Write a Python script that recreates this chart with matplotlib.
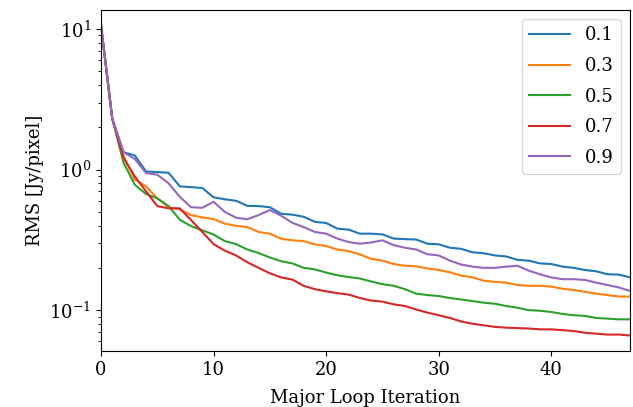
import numpy as np
import matplotlib
matplotlib.use("Agg")
from matplotlib import pyplot as plt

plt.rcParams["font.family"] = "DejaVu Serif"
plt.rcParams["font.size"] = 13
plt.rcParams["mathtext.fontset"] = "dejavuserif"

labels = ["0.1", "0.3", "0.5", "0.7", "0.9"]

rms_01 = [10.6, 2.3, 1.33, 1.26, 0.97, 0.96, 0.95, 0.76, 0.75, 0.74,
          0.635, 0.615, 0.60, 0.552, 0.55, 0.54, 0.485, 0.478, 0.462, 0.425,
          0.417, 0.38, 0.374, 0.35, 0.35, 0.346, 0.323, 0.32, 0.318, 0.297,
          0.294, 0.278, 0.273, 0.258, 0.254, 0.245, 0.241, 0.228, 0.225, 0.215,
          0.213, 0.204, 0.20, 0.193, 0.189, 0.18, 0.179, 0.171]
rms_03 = [10.6, 2.3, 1.25, 0.85, 0.76, 0.625, 0.54, 0.52, 0.475, 0.457,
          0.445, 0.412, 0.398, 0.39, 0.36, 0.35, 0.322, 0.314, 0.31, 0.294,
          0.286, 0.27, 0.263, 0.249, 0.232, 0.225, 0.213, 0.207, 0.205, 0.198,
          0.193, 0.186, 0.176, 0.171, 0.162, 0.159, 0.157, 0.151, 0.149, 0.149,
          0.147, 0.142, 0.139, 0.135, 0.131, 0.128, 0.125, 0.125]
rms_05 = [10.6, 2.3, 1.12, 0.78, 0.67, 0.625, 0.55, 0.44, 0.396, 0.37,
          0.345, 0.31, 0.295, 0.27, 0.255, 0.237, 0.223, 0.215, 0.20, 0.195,
          0.185, 0.177, 0.172, 0.168, 0.16, 0.153, 0.149, 0.141, 0.131, 0.128,
          0.126, 0.122, 0.119, 0.116, 0.113, 0.111, 0.107, 0.104, 0.10, 0.099,
          0.097, 0.094, 0.092, 0.091, 0.088, 0.087, 0.086, 0.086]
rms_07 = [10.6, 2.3, 1.21, 0.895, 0.70, 0.55, 0.53, 0.53, 0.437, 0.36,
          0.295, 0.265, 0.245, 0.219, 0.20, 0.183, 0.171, 0.165, 0.149, 0.141,
          0.136, 0.132, 0.129, 0.122, 0.117, 0.115, 0.11, 0.107, 0.101, 0.096,
          0.092, 0.088, 0.083, 0.08, 0.078, 0.076, 0.075, 0.0745, 0.074, 0.073,
          0.073, 0.072, 0.071, 0.069, 0.068, 0.067, 0.067, 0.066]
rms_09 = [10.6, 2.3, 1.33, 1.19, 0.945, 0.92, 0.80, 0.64, 0.54, 0.535,
          0.59, 0.50, 0.455, 0.443, 0.475, 0.515, 0.47, 0.418, 0.39, 0.36,
          0.35, 0.323, 0.305, 0.297, 0.303, 0.314, 0.29, 0.278, 0.27, 0.25,
          0.245, 0.225, 0.211, 0.204, 0.20, 0.20, 0.204, 0.207, 0.191, 0.18,
          0.171, 0.166, 0.166, 0.164, 0.157, 0.151, 0.145, 0.137]

series = [rms_01, rms_03, rms_05, rms_07, rms_09]
iterations = np.arange(len(rms_01))

fig = plt.figure(figsize=(6.33, 4.07), dpi=100)
ax = fig.add_axes([0.1596, 0.1376, 0.8357, 0.8378])

for vals, lab in zip(series, labels):
    ax.plot(iterations, vals, label=lab)

ax.set_yscale("log")
ax.set_xlim(0, iterations[-1])
# the reference crops the x label at the bottom edge; keep it just inside
ax.set_xlabel("Major Loop Iteration", labelpad=7.5)
ax.set_ylabel("RMS [Jy/pixel]")
ax.legend(loc="upper right", labelspacing=0.7, handlelength=2.3)

fig.savefig("out.png", dpi=100)
